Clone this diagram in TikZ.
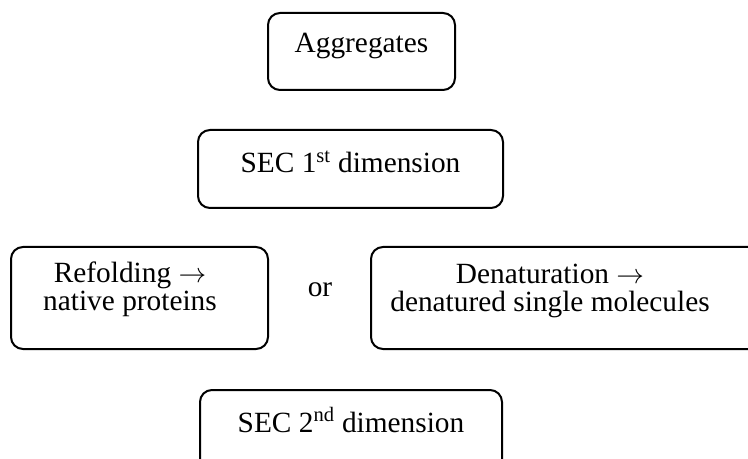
\documentclass[tikz,border=0pt]{standalone}
\usepackage{fontspec}
\setmainfont{Liberation Serif}
\tikzset{
  stage/.style={draw, line width=1.5pt, rounded corners=9pt, inner sep=0pt},
  caption/.style={inner sep=0pt, anchor=base, font=\fontsize{22}{26}\selectfont}
}
\newcommand{\boxat}[5]{% name, left, top, right, bottom
  \node[stage, minimum width={(#4-#2)*0.75pt}, minimum height={(#5-#3)*0.75pt}]
    (#1) at ({(#2+#4)/2},{(#3+#5)/2}) {};}
\begin{document}
\begin{tikzpicture}[x=0.75pt, y=-0.75pt]
  \useasboundingbox (0,0) rectangle (748,459);
  \clip (0,0) rectangle (748,459);
  % boxes
  \boxat{agg}{268}{13}{455}{90}
  \boxat{sec1}{198}{130}{503}{208}
  \boxat{refold}{11}{247}{268}{349}
  \boxat{denat}{371}{247}{790}{349}
  \boxat{sec2}{200}{390}{502}{490}
  % texts, one node per line, placed on their baselines
  \node[caption] (aggtext) at (361.5,53) {Aggregates};
  \node[caption] (sec1text) at (350.5,173) {SEC 1\textsuperscript{st} dimension};
  \node[caption] (refoldA) at (130,282) {Refolding $\rightarrow$};
  \node[caption] (refoldB) at (130,310) {native proteins};
  \node[caption] (or) at (320,296) {or};
  \node[caption] (denatA) at (550,283) {Denaturation $\rightarrow$};
  \node[caption] (denatB) at (550,311) {denatured single molecules};
  \node[caption] (sec2text) at (351,432) {SEC 2\textsuperscript{nd} dimension};
\end{tikzpicture}
\end{document}
